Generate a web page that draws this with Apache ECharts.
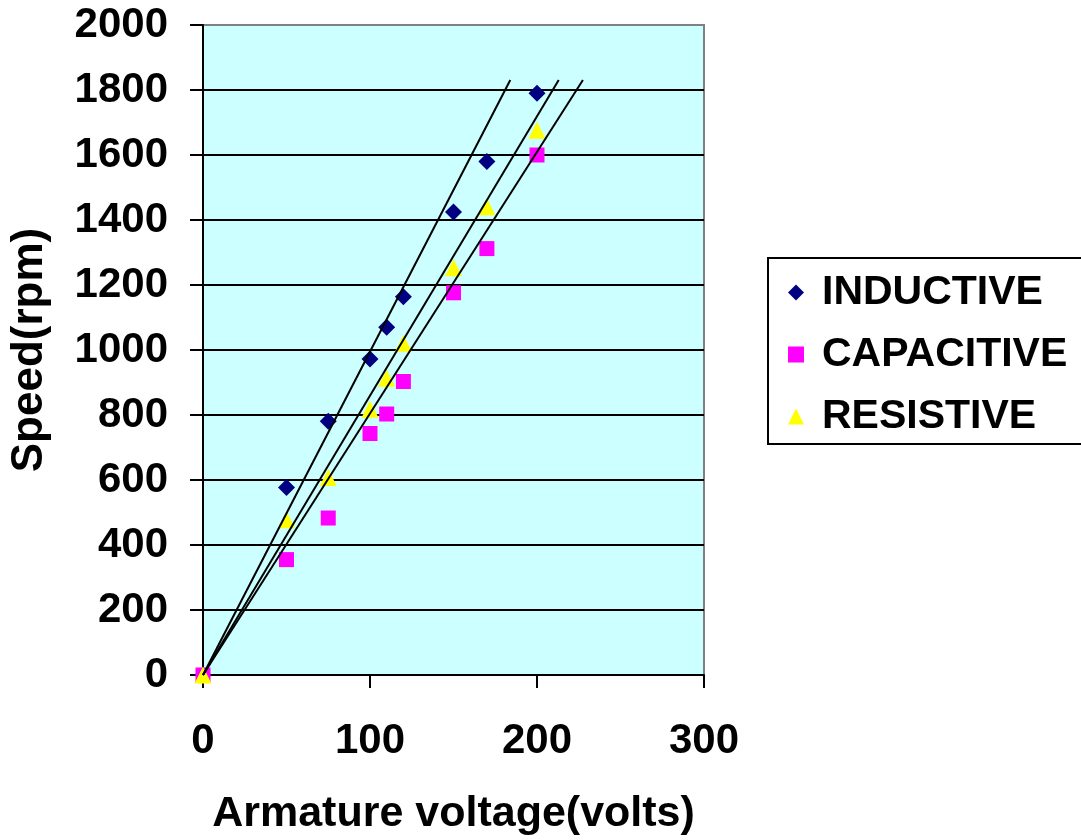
<!DOCTYPE html>
<html>
<head>
<meta charset="utf-8">
<script src="https://cdn.jsdelivr.net/npm/echarts@6/dist/echarts.min.js"></script>
<style>
  html, body { margin: 0; padding: 0; background: #fff; }
  #chart { width: 1081px; height: 840px; }
</style>
</head>
<body>
<div id="chart"></div>
<script>
// armature voltage (volts) - same for all three loads
const voltage = [0, 50, 75, 100, 110, 120, 150, 170, 200];
// speed (rpm) per load type
const inductive = [0, 577, 781, 972, 1070, 1164, 1425, 1580, 1790];
const capacitive = [0, 355, 483, 743, 803, 903, 1176, 1312, 1600];
const resistive = [0, 478, 608, 818, 913, 1021, 1253, 1441, 1676];

// straight trend lines drawn from the origin, end points
const trendNames = ['INDUCTIVE', 'RESISTIVE', 'CAPACITIVE'];
const trendEndX = [184, 213, 227.5];
const trendEndY = [1831, 1831, 1831];

const xTicks = [0, 100, 200, 300];
const yTicks = [0, 200, 400, 600, 800, 1000, 1200, 1400, 1600, 1800, 2000];

const font = '"Liberation Sans", Arial, sans-serif';

const toPairs = (ys) => voltage.map((v, i) => [v, ys[i]]);

const chart = echarts.init(document.getElementById('chart'));

const scatter = (name, ys, symbol, size, color) => ({
    name: name,
    type: 'scatter',
    data: toPairs(ys),
    symbol: symbol,
    symbolSize: size,
    itemStyle: { color: color, opacity: 1 },
    z: 3,
    animation: false
});

const trendSeries = trendNames.map((n, i) => ({
    name: 'trend ' + n,
    type: 'line',
    data: [[0, 0], [trendEndX[i], trendEndY[i]]],
    symbol: 'none',
    lineStyle: { color: '#000', width: 2 },
    z: 4,
    silent: true,
    animation: false
}));

const option = {
    backgroundColor: '#fff',
    animation: false,
    grid: {
        left: 203, right: 377, top: 25, bottom: 165,
        outerBoundsMode: 'none', // keep the plot box where it is, labels may sit near the edge
        show: true,
        backgroundColor: '#CCFFFF',
        borderColor: '#808080',
        borderWidth: 2
    },
    legend: {
        data: ['INDUCTIVE', 'CAPACITIVE', 'RESISTIVE'],
        orient: 'vertical',
        left: 768,
        top: 258,
        padding: [14, 40, 7, 20],
        borderColor: '#000',
        borderWidth: 2,
        backgroundColor: '#fff',
        itemWidth: 16,
        itemHeight: 16,
        itemGap: 21,
        textStyle: {
            fontFamily: font,
            fontWeight: 'bold',
            fontSize: 41,
            lineHeight: 40,
            color: '#000',
            padding: [0, 0, 0, 13]
        }
    },
    xAxis: {
        type: 'value',
        min: xTicks[0],
        max: xTicks[xTicks.length - 1],
        interval: 100,
        name: 'Armature voltage(volts)',
        nameLocation: 'middle',
        nameGap: 118,
        nameTextStyle: { fontFamily: font, fontWeight: 'bold', fontSize: 43, color: '#000' },
        axisLine: { show: true, onZero: false, lineStyle: { color: '#000', width: 2 } },
        axisTick: { show: true, length: 13, lineStyle: { color: '#000', width: 2 } },
        axisLabel: { margin: 45, fontFamily: font, fontWeight: 'bold', fontSize: 42, color: '#000' },
        splitLine: { show: false }
    },
    yAxis: {
        type: 'value',
        min: yTicks[0],
        max: yTicks[yTicks.length - 1],
        interval: 200,
        name: 'Speed(rpm)',
        nameLocation: 'middle',
        nameGap: 151,
        nameTextStyle: { fontFamily: font, fontWeight: 'bold', fontSize: 44, color: '#000' },
        axisLine: { show: true, onZero: false, lineStyle: { color: '#000', width: 2 } },
        axisTick: { show: true, length: 13, lineStyle: { color: '#000', width: 2 } },
        axisLabel: {
            margin: 35, fontFamily: font, fontWeight: 'bold', fontSize: 42, color: '#000',
            formatter: (v) => String(v)
        },
        splitLine: { show: true, showMinLine: false, showMaxLine: false, lineStyle: { color: '#000', width: 2 } }
    },
    series: [
        scatter('INDUCTIVE', inductive, 'diamond', 17, '#000080'),
        scatter('CAPACITIVE', capacitive, 'rect', 15, '#FF00FF'),
        scatter('RESISTIVE', resistive, 'triangle', 17, '#FFFF00')
    ].concat(trendSeries)
};

chart.setOption(option);
</script>
</body>
</html>
